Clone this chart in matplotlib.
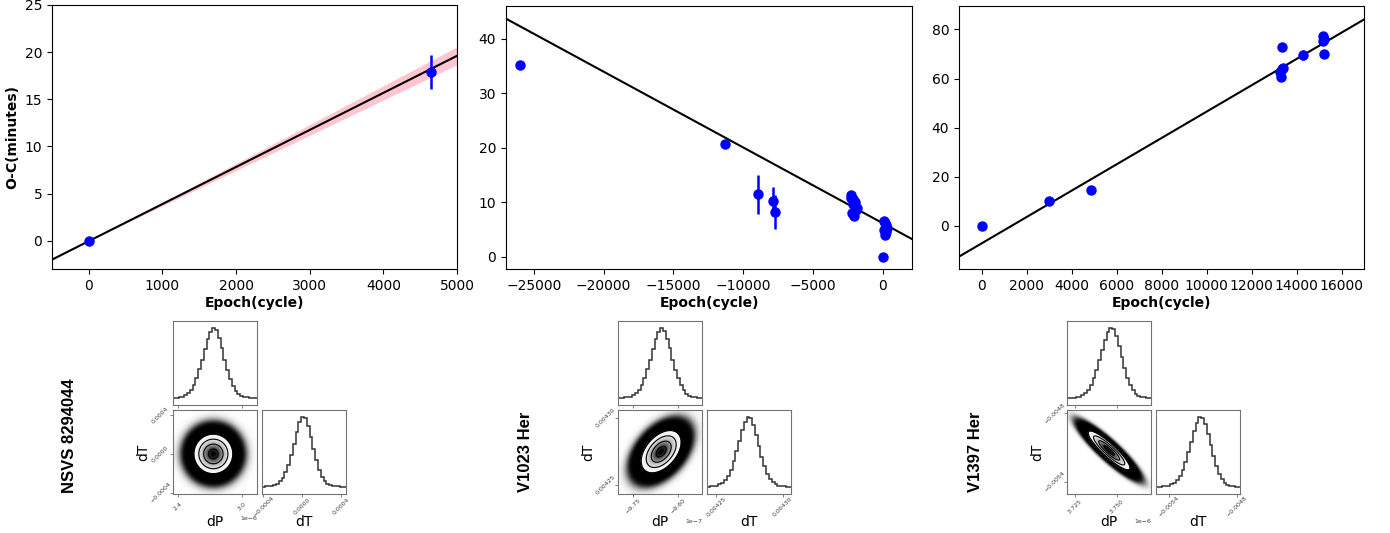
import matplotlib
matplotlib.use("Agg")
import matplotlib.pyplot as plt
import numpy as np

W, H = 1390, 533

# ---- O-C data ----
nsvs_epoch = [0, 4650]
nsvs_oc = [0.0, 17.9]
nsvs_err = [0.0, 1.8]
nsvs_fit = (0.00393, -0.04)      # slope, intercept
nsvs_slope_err = 0.00019

v1023_epoch = [-26000, -11300, -8950, -7850, -7750,
               -2300, -2250, -2200, -2150, -2100, -2050, -2000, -1950,
               -1900, -1850, 60, 100, 140, 180, 220, 260, 300, 0]
v1023_oc = [35.1, 20.7, 11.5, 10.2, 8.2,
            11.4, 10.9, 8.0, 10.6, 9.8, 7.6, 9.4, 10.1,
            8.6, 9.0, 6.6, 5.0, 6.2, 4.1, 5.8, 4.6, 5.4, 0.0]
v1023_err = [0, 0, 3.6, 2.7, 3.1,
             0, 0, 0, 0, 0, 0, 0, 0,
             0, 0, 0, 0, 0, 0, 0, 0, 0, 0]
v1023_fit = (-0.001388, 6.2)

v1397_epoch = [0, 3020, 4870, 13340, 13290, 13260, 13340, 13380,
               14300, 15190, 15220, 15190, 15220]
v1397_oc = [0.0, 10.0, 14.6, 72.9, 60.7, 62.8, 63.9, 64.2,
            69.6, 77.3, 75.9, 75.4, 69.8]
v1397_err = [0, 0, 0, 0, 0, 0, 0, 0, 2.0, 0, 0, 0, 0]
v1397_fit = (0.00536, -7.1)

# ---- posterior summaries (corner plots) ----
names = ["NSVS 8294044", "V1023 Her", "V1397 Her"]
dP_range = [(2.353e-6, 3.142e-6), (-9.798e-7, -9.52e-7), (3.7204e-6, 3.7704e-6)]
dT_range = [(-0.000415, 0.000455), (0.0042433, 0.0043062), (-0.005508, -0.00477)]
dP_center = [2.732e-6, -9.656e-7, 3.7453e-6]
dT_center = [0.0, 0.004275, -0.005125]
dP_sigma = [0.091e-6, 0.033e-7, 0.0062e-6]
dT_sigma = [0.000102, 7.9e-6, 8.5e-5]
rho = [0.0, 0.45, -0.9]
dP_ticks = [[2.4e-6, 3.0e-6], [-9.75e-7, -9.6e-7], [3.725e-6, 3.75e-6]]
dT_ticks = [[-0.0004, 0.0, 0.0004], [0.00425, 0.0043], [-0.0054, -0.0048]]

nsvs_dP_hist = [0.0, 0.0, 0.01, 0.02, 0.04, 0.07, 0.12, 0.19, 0.29, 0.41,
                0.55, 0.70, 0.84, 0.95, 1.0, 0.97, 0.86, 0.71, 0.55, 0.40,
                0.27, 0.17, 0.10, 0.06, 0.03, 0.02, 0.01, 0.0, 0.0, 0.0]
nsvs_dT_hist = [0.0, 0.01, 0.01, 0.02, 0.03, 0.05, 0.08, 0.13, 0.21, 0.32,
                0.46, 0.62, 0.79, 0.93, 1.0, 0.98, 0.87, 0.71, 0.54, 0.38,
                0.25, 0.15, 0.09, 0.05, 0.03, 0.02, 0.01, 0.01, 0.0, 0.0]
v1023_dP_hist = [0.0, 0.0, 0.01, 0.01, 0.02, 0.04, 0.07, 0.12, 0.19, 0.29,
                 0.41, 0.55, 0.70, 0.84, 0.95, 1.0, 0.96, 0.85, 0.71, 0.55,
                 0.40, 0.28, 0.18, 0.11, 0.06, 0.03, 0.02, 0.01, 0.0, 0.0]
v1023_dT_hist = [0.0, 0.01, 0.01, 0.02, 0.04, 0.06, 0.10, 0.16, 0.25, 0.37,
                 0.51, 0.66, 0.81, 0.93, 1.0, 0.98, 0.88, 0.74, 0.58, 0.43,
                 0.30, 0.19, 0.12, 0.07, 0.04, 0.02, 0.01, 0.01, 0.0, 0.0]
v1397_dP_hist = [0.0, 0.0, 0.0, 0.01, 0.02, 0.04, 0.07, 0.11, 0.18, 0.28,
                 0.40, 0.54, 0.69, 0.83, 0.94, 1.0, 0.98, 0.88, 0.74, 0.58,
                 0.43, 0.29, 0.19, 0.11, 0.06, 0.03, 0.02, 0.01, 0.0, 0.0]
v1397_dT_hist = [0.0, 0.0, 0.01, 0.01, 0.02, 0.04, 0.06, 0.10, 0.16, 0.25,
                 0.36, 0.50, 0.65, 0.80, 0.92, 1.0, 0.99, 0.90, 0.76, 0.60,
                 0.44, 0.30, 0.19, 0.11, 0.06, 0.03, 0.02, 0.01, 0.0, 0.0]
dP_hists = [nsvs_dP_hist, v1023_dP_hist, v1397_dP_hist]
dT_hists = [nsvs_dT_hist, v1023_dT_hist, v1397_dT_hist]


def px_axes(fig, left, top, width, height):
    """Add axes from a pixel box (origin top-left)."""
    return fig.add_axes([left / W, 1 - (top + height) / H, width / W, height / H])


def plot_oc(ax, epoch, oc, err, fit, xlim, ylim, band=None):
    x = np.linspace(xlim[0], xlim[1], 200)
    y = fit[0] * x + fit[1]
    if band is not None:
        ax.fill_between(x, y - band * np.abs(x), y + band * np.abs(x),
                        color="pink", alpha=0.9, lw=0)
    ax.plot(x, y, color="black", lw=1.5)
    ax.errorbar(epoch, oc, yerr=err, fmt="o", color="blue", ms=6.5,
                elinewidth=1.8, capsize=0)
    ax.set_xlim(xlim)
    ax.set_ylim(ylim)
    ax.set_xlabel("Epoch(cycle)", fontsize=10, fontweight="bold", labelpad=2)
    ax.tick_params(labelsize=10)


def style_corner_ax(ax):
    for s in ax.spines.values():
        s.set_color("0.45")
        s.set_linewidth(0.8)
    ax.tick_params(length=2, width=0.5, color="0.3", labelsize=4.5,
                   labelcolor="0.25", pad=1)


def draw_corner(fig, k, left, top, size, gap):
    """Corner-style posterior plot for object k."""
    xr, yr = dP_range[k], dT_range[k]
    ax_top = px_axes(fig, left, top, size, size)
    ax_2d = px_axes(fig, left, top + size + gap, size, size)
    ax_rh = px_axes(fig, left + size + gap, top + size + gap, size, size)

    # 1D histograms
    edges = np.linspace(xr[0], xr[1], len(dP_hists[k]) + 1)
    ax_top.stairs(dP_hists[k], edges, color="0.2", lw=1.1)
    ax_top.set_xlim(xr)
    ax_top.set_ylim(-0.1, 1.1)
    ax_top.set_yticks([])
    ax_top.set_xticks(dP_ticks[k])
    ax_top.set_xticklabels([])

    edges = np.linspace(yr[0], yr[1], len(dT_hists[k]) + 1)
    ax_rh.stairs(dT_hists[k], edges, color="0.2", lw=1.1)
    ax_rh.set_xlim(yr)
    ax_rh.set_ylim(-0.1, 1.1)
    ax_rh.set_yticks([])
    ax_rh.set_xticks(dT_ticks[k])

    # 2D density: scattered samples outside, shaded levels inside
    gx = np.linspace(xr[0], xr[1], 300)
    gy = np.linspace(yr[0], yr[1], 300)
    X, Y = np.meshgrid(gx, gy)
    u = (X - dP_center[k]) / dP_sigma[k]
    v = (Y - dT_center[k]) / dT_sigma[k]
    r2 = (u * u - 2 * rho[k] * u * v + v * v) / (1 - rho[k] ** 2)
    p = np.exp(-0.5 * r2)
    shade = np.where(r2 < 4.0, 1 - p ** 2, np.exp(-300 * p))
    ax_2d.imshow(shade, extent=[xr[0], xr[1], yr[0], yr[1]], origin="lower",
                 aspect="auto", cmap="gray", vmin=0, vmax=1,
                 interpolation="bilinear")
    ax_2d.contour(X, Y, np.sqrt(r2), levels=[0.5, 1.0, 1.5, 2.0],
                  colors="black", linewidths=0.8)
    ax_2d.set_xlim(xr)
    ax_2d.set_ylim(yr)
    ax_2d.set_xticks(dP_ticks[k])
    ax_2d.set_yticks(dT_ticks[k])

    for ax in (ax_top, ax_2d, ax_rh):
        style_corner_ax(ax)
    for lab in ax_2d.get_xticklabels() + ax_2d.get_yticklabels() \
            + ax_rh.get_xticklabels():
        lab.set_rotation(45)
        lab.set_ha("center")
        lab.set_va("center")
    ax_2d.tick_params(axis="x", pad=7)
    ax_2d.tick_params(axis="y", pad=7)
    ax_rh.tick_params(axis="x", pad=7)
    ax_2d.xaxis.get_offset_text().set_fontsize(4.5)
    ax_2d.xaxis.get_offset_text().set_color("0.25")

    ax_2d.set_xlabel("dP", fontsize=10)
    ax_2d.xaxis.set_label_coords(0.5, -0.25)
    ax_2d.set_ylabel("dT", fontsize=10)
    ax_2d.yaxis.set_label_coords(-0.27, 0.5)
    ax_rh.set_xlabel("dT", fontsize=10)
    ax_rh.xaxis.set_label_coords(0.5, -0.25)


def main():
    fig = plt.figure(figsize=(W / 100, H / 100), dpi=100)

    ax1 = px_axes(fig, 52, 5, 405, 264)
    plot_oc(ax1, nsvs_epoch, nsvs_oc, nsvs_err, nsvs_fit,
            (-500, 5000), (-3, 25), band=nsvs_slope_err)
    ax1.set_ylabel("O-C(minutes)", fontsize=10, fontweight="bold")

    ax2 = px_axes(fig, 506, 6, 406, 263)
    plot_oc(ax2, v1023_epoch, v1023_oc, v1023_err, v1023_fit,
            (-27000, 2100), (-2.2, 46))
    ax2.set_xticks([-25000, -20000, -15000, -10000, -5000, 0])
    ax2.set_yticks([0, 10, 20, 30, 40])

    ax3 = px_axes(fig, 959, 6, 405, 263)
    plot_oc(ax3, v1397_epoch, v1397_oc, v1397_err, v1397_fit,
            (-1000, 17000), (-17.5, 89.5))
    ax3.set_xticks(np.arange(0, 16001, 2000))
    ax3.set_yticks([0, 20, 40, 60, 80])

    # Corner plots
    corner_left = [173, 618.3, 1067.3]
    label_pos = [(70, 436), (525, 452), (975, 452)]
    for k in range(3):
        draw_corner(fig, k, corner_left[k], 321, 84, 5)
        fig.text(label_pos[k][0] / W, 1 - label_pos[k][1] / H, names[k],
                 rotation=90, ha="center", va="center", fontsize=12,
                 fontweight="bold", family="Liberation Sans")

    fig.savefig("out.png", dpi=100)


if __name__ == "__main__":
    main()
